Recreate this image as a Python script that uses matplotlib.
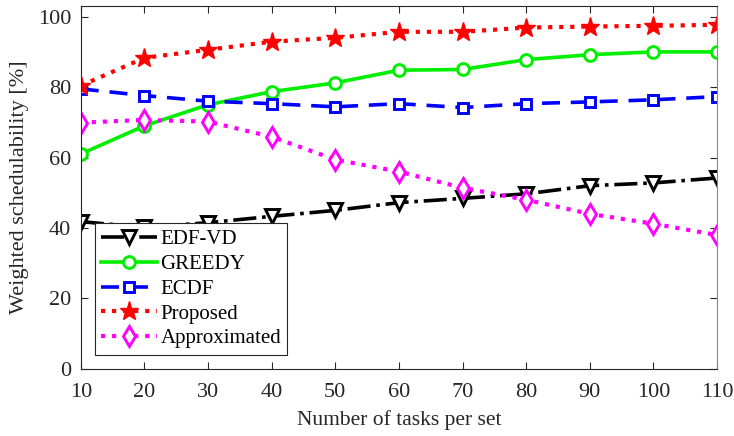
import matplotlib.pyplot as plt

plt.rcParams['font.family'] = ['Liberation Serif', 'DejaVu Serif']
plt.rcParams['mathtext.fontset'] = 'stix'

# Number of tasks per set
tareas = [10, 20, 30, 40, 50, 60, 70, 80, 90, 100, 110]

# Weighted schedulability [%] of each method
edf_vd = [41.8, 40.2, 41.5, 43.3, 45.0, 47.2, 48.4, 49.7, 52.0, 52.8, 54.2]
greedy = [61.0, 69.0, 75.0, 78.7, 81.2, 84.8, 85.0, 87.8, 89.2, 90.0, 90.0]
ecdf = [79.5, 77.6, 76.0, 75.3, 74.4, 75.3, 74.2, 75.3, 75.8, 76.4, 77.3]
propuesto = [80.4, 88.3, 90.6, 92.9, 94.0, 95.7, 95.7, 96.9, 97.2, 97.4, 97.7]
aproximado = [69.9, 70.7, 70.2, 65.9, 59.4, 56.0, 51.4, 48.0, 44.0, 41.2, 38.0]

fig = plt.figure(figsize=(7.34, 4.36), dpi=100)
ax = fig.add_axes([0.110, 0.154, 0.867, 0.832])

lw = 2.6
mew = 2.1
ax.plot(tareas, edf_vd, color='black', linestyle='-.', linewidth=lw, marker='v',
        markersize=10, markerfacecolor='white', markeredgewidth=mew, label='EDF-VD')
ax.plot(tareas, greedy, color='#00ee00', linestyle='-', linewidth=lw, marker='o',
        markersize=8.5, markerfacecolor='white', markeredgewidth=mew, label='GREEDY')
ax.plot(tareas, ecdf, color='#0000ff', linestyle=(0, (5, 3)), linewidth=lw, marker='s',
        markersize=7.5, markerfacecolor='white', markeredgewidth=mew, label='ECDF')
ax.plot(tareas, propuesto, color='red', linestyle=':', linewidth=lw + 0.4, marker='*',
        markersize=14, markerfacecolor='red', markeredgewidth=1.0, label='Proposed')
ax.plot(tareas, aproximado, color='#ff00ff', linestyle=':', linewidth=lw + 0.4, marker='d',
        markersize=10, markerfacecolor='white', markeredgewidth=mew, label='Approximated')

ax.set_xlim(10, 110)
ax.set_ylim(0, 103)
ax.set_xticks(tareas)
ax.set_yticks([0, 20, 40, 60, 80, 100])
ax.tick_params(direction='in', top=True, right=True, labelsize=16, colors='#262626',
               length=5)
ax.tick_params(axis='x', pad=10)
ax.tick_params(axis='y', pad=7)
for lado in ax.spines.values():
    lado.set_color('#262626')
    lado.set_linewidth(0.8)
ax.spines['right'].set_color('#888888')
ax.set_xlabel('Number of tasks per set', fontsize=15.5, color='#262626', labelpad=6)
ax.set_ylabel('Weighted schedulability [%]', fontsize=16, color='#262626', labelpad=6)

leg = ax.legend(loc='lower left', bbox_to_anchor=(0.022, 0.039), borderaxespad=0,
                fontsize=15, handlelength=2.7, handletextpad=0.15, labelspacing=0.25,
                borderpad=0.3, fancybox=False, framealpha=1, edgecolor='#262626')
leg.get_frame().set_linewidth(0.8)

fig.savefig('out.png', dpi=100)
